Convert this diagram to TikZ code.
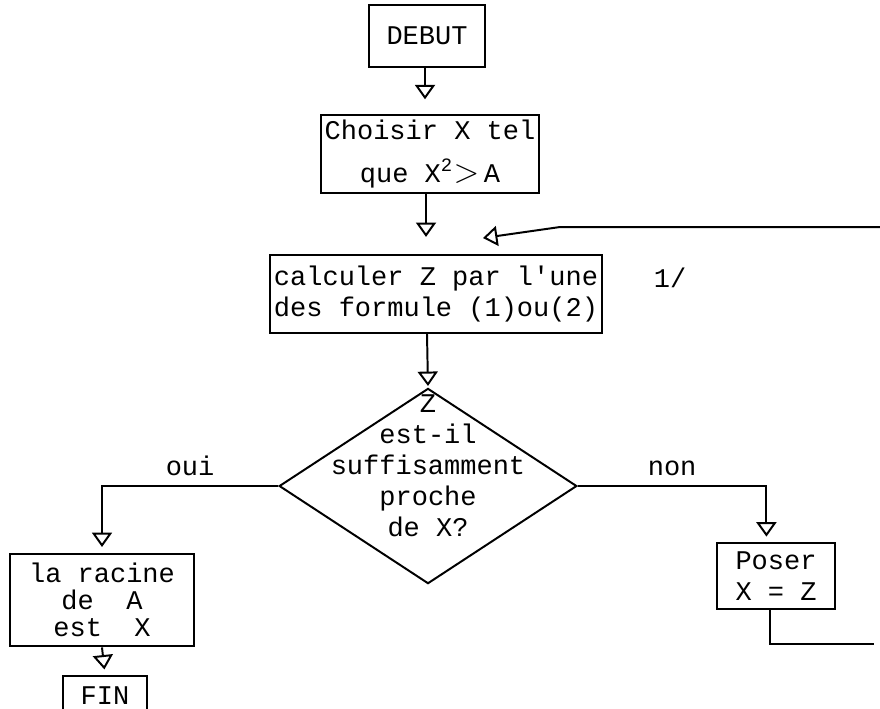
\documentclass[tikz,border=0pt]{standalone}
\usepackage{fontspec}
\setmonofont{Liberation Mono}
\usetikzlibrary{arrows.meta,shapes.geometric}

\begin{document}
\begin{tikzpicture}[x=0.0125cm,y=-0.0125cm,
  >={Triangle[open,width=0.25cm,length=0.18cm]},
  every node/.style={font=\ttfamily\fontsize{9.6}{11}\selectfont},
  box/.style={draw,line width=0.7pt,align=center,inner sep=0pt},
  decision/.style={draw,diamond,line width=0.7pt,inner sep=0pt},
  link/.style={line width=0.7pt,shorten >=2pt}]
\clip (0,0) rectangle (880,708);
\node[box,minimum width=1.44cm,minimum height=0.78cm] (D) at (427,36) {DEBUT};
\node[box,minimum width=2.72cm,minimum height=0.97cm] (C) at (430,154) {Choisir X tel\\[4pt]que X\textsuperscript{2}{\large$>$}\,A};
\node[box,minimum width=4.15cm,minimum height=0.98cm] (Z) at (436,294) {calculer Z par l'une\\des formule (1)ou(2)};
\node (note) at (670,278) {1/};
\node[decision,minimum width=3.72cm,minimum height=2.44cm] (T) at (428,486) {};
\node[align=center] (Ttxt) at (428,466) {Z\\est-il\\suffisamment\\proche\\de X?};
\node[box,minimum width=2.29cm,minimum height=1.16cm] (R) at (102,600) {la racine\\[-1.5pt]de~~A\\[-1.5pt]est~~X};
\node[box,minimum width=1.05cm,minimum height=0.5cm] (F) at (105,696) {FIN};
\node[box,minimum width=1.48cm,minimum height=0.82cm] (P) at (776,576) {Poser\\X = Z};
\coordinate (loopout) at (880,644);
\coordinate (loopin) at (880,227);
\coordinate (bend) at (560,227);
\coordinate (Zin) at (483,238);
\draw[link,->,shorten >=5.3pt] (D.south -| 425,0) -- (C.north -| 425,0);
\draw[link,->,shorten >=6pt] (C.south -| 426,0) -- (Z.north -| 426,0);
\draw[link,->,shorten >=0.5pt] (Z.south -| 427,0) -- (T.north);
\draw[link,->] (T.west) -| node[pos=0.25,above]{oui} (R.north);
\draw[link,->] (R.south) -- (F.north);
\draw[link,->] (T.east) -| node[pos=0.25,above]{non} ([xshift=-0.12cm]P.north);
\draw[link] ([xshift=-0.07cm]P.south) |- (loopout);
\draw[link,->,shorten >=0pt] (loopin) -- (bend) -- (Zin);
\end{tikzpicture}
\end{document}
